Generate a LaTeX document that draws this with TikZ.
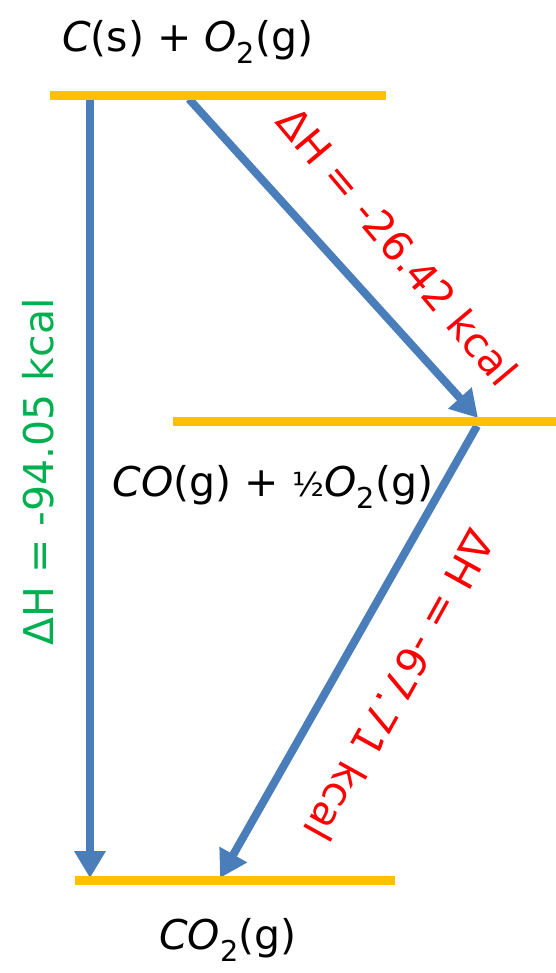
\documentclass[tikz,border=0pt]{standalone}
\usepackage{fontspec}
\setmainfont{DejaVu Sans}
\usetikzlibrary{arrows.meta}
\definecolor{lvlorange}{HTML}{FFC000}
\definecolor{arrblue}{HTML}{4A7EBB}
\definecolor{dhred}{HTML}{FF0000}
\definecolor{dhgreen}{HTML}{00B050}

\begin{document}
\begin{tikzpicture}[x=1pt,y=-1pt,
  level/.style={line width=9pt,lvlorange},
  enth/.style={line width=8pt,arrblue,-{Triangle[width=30pt,length=27pt]}},
  lab/.style={font=\fontsize{41}{49}\selectfont,inner sep=0pt}]
\useasboundingbox (0,0) rectangle (556,973);
% energy levels
\coordinate (topL) at (50,96);   \coordinate (topR) at (386,96);
\coordinate (midL) at (173,421); \coordinate (midR) at (556,421);
\coordinate (botL) at (75,880);  \coordinate (botR) at (395,880);
% arrow ends
\coordinate (a1) at (90,99);   \coordinate (b1) at (90,878);
\coordinate (a2) at (189,99);  \coordinate (b2) at (478,418);
\coordinate (a3) at (477,426); \coordinate (b3) at (220,878);
\draw[enth] (a1)--(b1);
\draw[enth] (a2)--(b2);
\draw[enth] (a3)--(b3);
\draw[level] (topL)--(topR);
\draw[level] (midL)--(midR);
\draw[level] (botL)--(botR);
% species
\node[lab] (cs) at (188,42) {\textit{C}(s) + \textit{O}\textsubscript{2}(g)};
\node[lab] (co) at (273,487) {\textit{C}\textit{O}(g) + {\fontsize{33}{33}\selectfont ½}\textit{O}\textsubscript{2}(g)};
\node[lab] (co2) at (228,940) {\textit{C}\textit{O}\textsubscript{2}(g)};
% enthalpies
\node[lab,dhgreen,rotate=90] (dh1) at (38,472) {ΔH = -94.05 kcal};
\node[lab,dhred,rotate=-50] (dh2) at (398,246) {ΔH = -26.42 kcal};
\node[lab,dhred,rotate=-119] (dh3) at (400,686) {ΔH = -67.71 kcal};
\end{tikzpicture}
\end{document}
